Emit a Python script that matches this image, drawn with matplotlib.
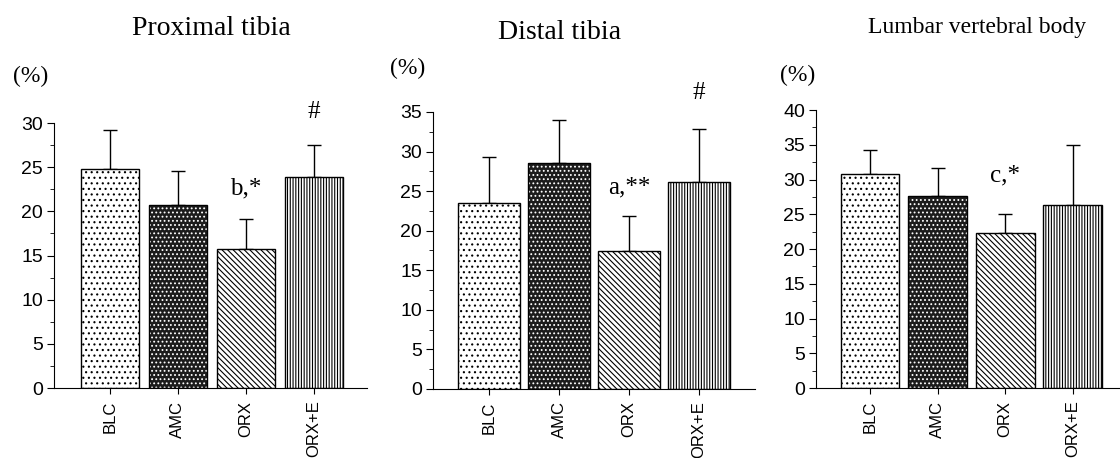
import matplotlib
matplotlib.use('Agg')
import matplotlib.pyplot as plt
from matplotlib.ticker import MultipleLocator

plt.rcParams['font.family'] = ['Liberation Sans', 'DejaVu Sans']
plt.rcParams['hatch.linewidth'] = 0.8

groups = ['BLC', 'AMC', 'ORX', 'ORX+E']

prox_mean = [24.8, 20.7, 15.7, 23.9]
prox_err = [4.4, 3.9, 3.4, 3.6]
dist_mean = [23.5, 28.5, 17.4, 26.2]
dist_err = [5.8, 5.5, 4.5, 6.7]
lumb_mean = [30.8, 27.6, 22.3, 26.3]
lumb_err = [3.5, 4.0, 2.8, 8.7]

titles = ['Proximal tibia', 'Distal tibia', 'Lumbar vertebral body']
ylims = [30, 35, 40]
# 注释: (组索引, 文本, y位置)
notes = [
    [(2, 'b,*', 22.6), (3, '#', 31.2)],
    [(2, 'a,**', 25.5), (3, '#', 37.4)],
    [(2, 'c,*', 30.6)],
]

# 每组的填充样式: (底色, 图案, 图案颜色)
styles = [
    ('white', '...', 'black'),
    ('#1c1c1c', '....', 'white'),
    ('white', '\\\\\\\\\\\\', 'black'),
    ('white', '||||||', 'black'),
]

fig = plt.figure(figsize=(11.2, 4.58), dpi=100)

axes_pos = [
    [0.0482, 0.1528, 0.2795, 0.5786],
    [0.3866, 0.1507, 0.2875, 0.6048],
    [0.7286, 0.1528, 0.2714, 0.6070],
]
xlims = [(-0.82, 3.78), (-0.80, 3.80), (-0.80, 3.70)]
widths = [0.85, 0.89, 0.87]

data = [(prox_mean, prox_err), (dist_mean, dist_err), (lumb_mean, lumb_err)]

for i, (means, errs) in enumerate(data):
    ax = fig.add_axes(axes_pos[i])
    x = list(range(len(groups)))
    for j in x:
        face, hatch, hcol = styles[j]
        ax.bar(j, means[j], width=widths[i], color=face, hatch=hatch,
               edgecolor=hcol, linewidth=0, zorder=2)
        ax.bar(j, means[j], width=widths[i], fill=False,
               edgecolor='black', linewidth=1.0, zorder=3)
    ax.errorbar(x, means, yerr=[[0] * 4, errs], fmt='none', ecolor='black',
                elinewidth=1.0, capsize=5, capthick=1.0, zorder=1)

    ax.set_xlim(*xlims[i])
    ax.set_ylim(0, ylims[i])
    ax.spines['top'].set_visible(False)
    ax.spines['right'].set_visible(False)
    ax.yaxis.set_major_locator(MultipleLocator(5))
    ax.yaxis.set_minor_locator(MultipleLocator(2.5))
    ax.tick_params(axis='y', which='major', length=5, labelsize=14, pad=3)
    ax.tick_params(axis='y', which='minor', length=3)
    ax.tick_params(axis='x', length=4, labelsize=12, pad=5)
    ax.set_xticks(x)
    ax.set_xticklabels(groups, rotation=90)

    for j, txt, yy in notes[i]:
        ax.text(j, yy, txt, ha='center', va='center', fontsize=18,
                family='Liberation Serif', clip_on=False)

fig.text(0.189, 0.938, titles[0], ha='center', va='center', fontsize=20, family='Liberation Serif')
fig.text(0.500, 0.930, titles[1], ha='center', va='center', fontsize=20, family='Liberation Serif')
fig.text(0.872, 0.941, titles[2], ha='center', va='center', fontsize=17, family='Liberation Serif')

for xp, yp in [(0.027, 0.833), (0.364, 0.851), (0.712, 0.836)]:
    fig.text(xp, yp, '(%)', ha='center', va='center', fontsize=17, family='Liberation Serif')

plt.savefig('out.png', dpi=100)
plt.close()
